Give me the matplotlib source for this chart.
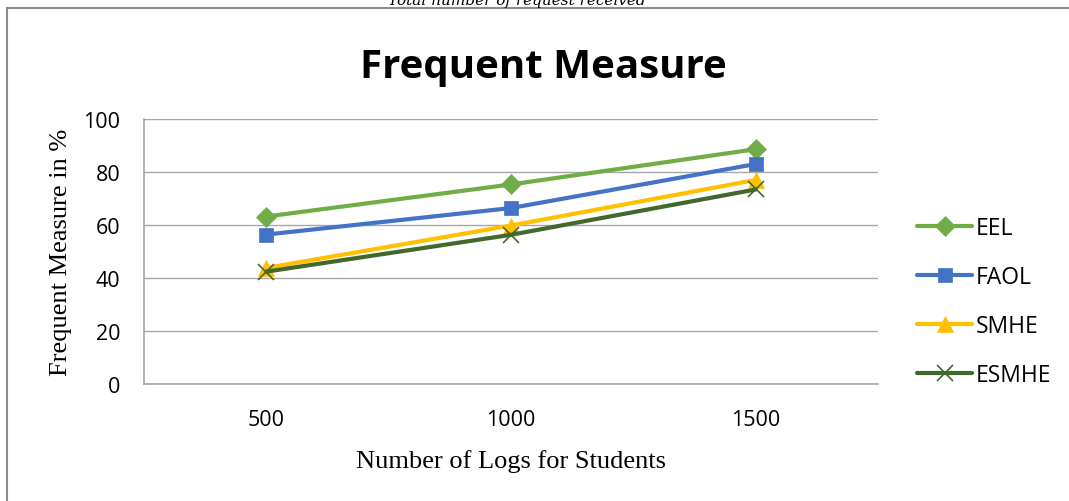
import matplotlib.pyplot as plt
from matplotlib.lines import Line2D

logs = ["500", "1000", "1500"]
eel = [63.2, 75.3, 88.6]
faol = [56.4, 66.4, 83.0]
smhe = [43.8, 59.8, 77.0]
esmhe = [42.4, 56.3, 73.4]

series = [
    ("EEL", eel, "#70AD47", "D", 10),
    ("FAOL", faol, "#4472C4", "s", 10),
    ("SMHE", smhe, "#FFC000", "^", 11),
    ("ESMHE", esmhe, "#43682B", "x", 11),
]

W, H = 1069, 502
fig = plt.figure(figsize=(W / 100, H / 100), dpi=100)
ax = fig.add_axes([144 / W, 1 - 385 / H, (878 - 144) / W, (385 - 120) / H])

x = range(len(logs))
for name, vals, col, mk, ms in series:
    ax.plot(x, vals, color=col, lw=3, marker=mk, ms=ms,
            markeredgewidth=1.2 if mk == "x" else 0.5, markeredgecolor=col,
            label=name, solid_capstyle="round")

ax.set_xlim(-0.5, 2.5)
ax.set_ylim(0, 100)
ax.set_yticks([0, 20, 40, 60, 80, 100])
ax.set_xticks(list(x))
ax.set_xticklabels(logs)
ax.yaxis.grid(True, color="#A6A6A6", lw=1)
ax.set_axisbelow(True)
for s in ["top", "right"]:
    ax.spines[s].set_visible(False)
for s in ["left", "bottom"]:
    ax.spines[s].set_color("#A6A6A6")
    ax.spines[s].set_linewidth(1.2)
ax.tick_params(length=0, labelsize=15.5)
ax.tick_params(axis="y", pad=17)
ax.tick_params(axis="x", pad=18)
for lab in ax.get_xticklabels() + ax.get_yticklabels():
    lab.set_fontfamily("Open Sans")

ax.set_xlabel("Number of Logs for Students", family="Liberation Serif", fontsize=19, labelpad=14)
ax.set_ylabel("Frequent Measure in %", family="Liberation Serif", fontsize=19, labelpad=8)

fig.text(543 / W, 1 - 78 / H, "Frequent Measure", ha="center", va="baseline",
         family="Open Sans", weight="bold", fontsize=29)

fig.text(517 / W, 1 - 5 / H, "Total number of request received", ha="center", va="baseline",
         family="DejaVu Serif", style="italic", fontsize=11)

# chart border
fig.add_artist(Line2D([7 / W, 7 / W], [0, 1 - 9 / H], transform=fig.transFigure, color="#8C8C8C", lw=1.5))
fig.add_artist(Line2D([7 / W, 1], [1 - 9 / H, 1 - 9 / H], transform=fig.transFigure, color="#8C8C8C", lw=1.5))

leg = fig.legend(loc="upper left", bbox_to_anchor=(906 / W, 1 - 206 / H), frameon=False,
                 prop={"family": "Open Sans", "size": 16.5}, handlelength=2.4,
                 labelspacing=1.08, handletextpad=0.15, borderpad=0)

fig.savefig("out.png", dpi=100)
